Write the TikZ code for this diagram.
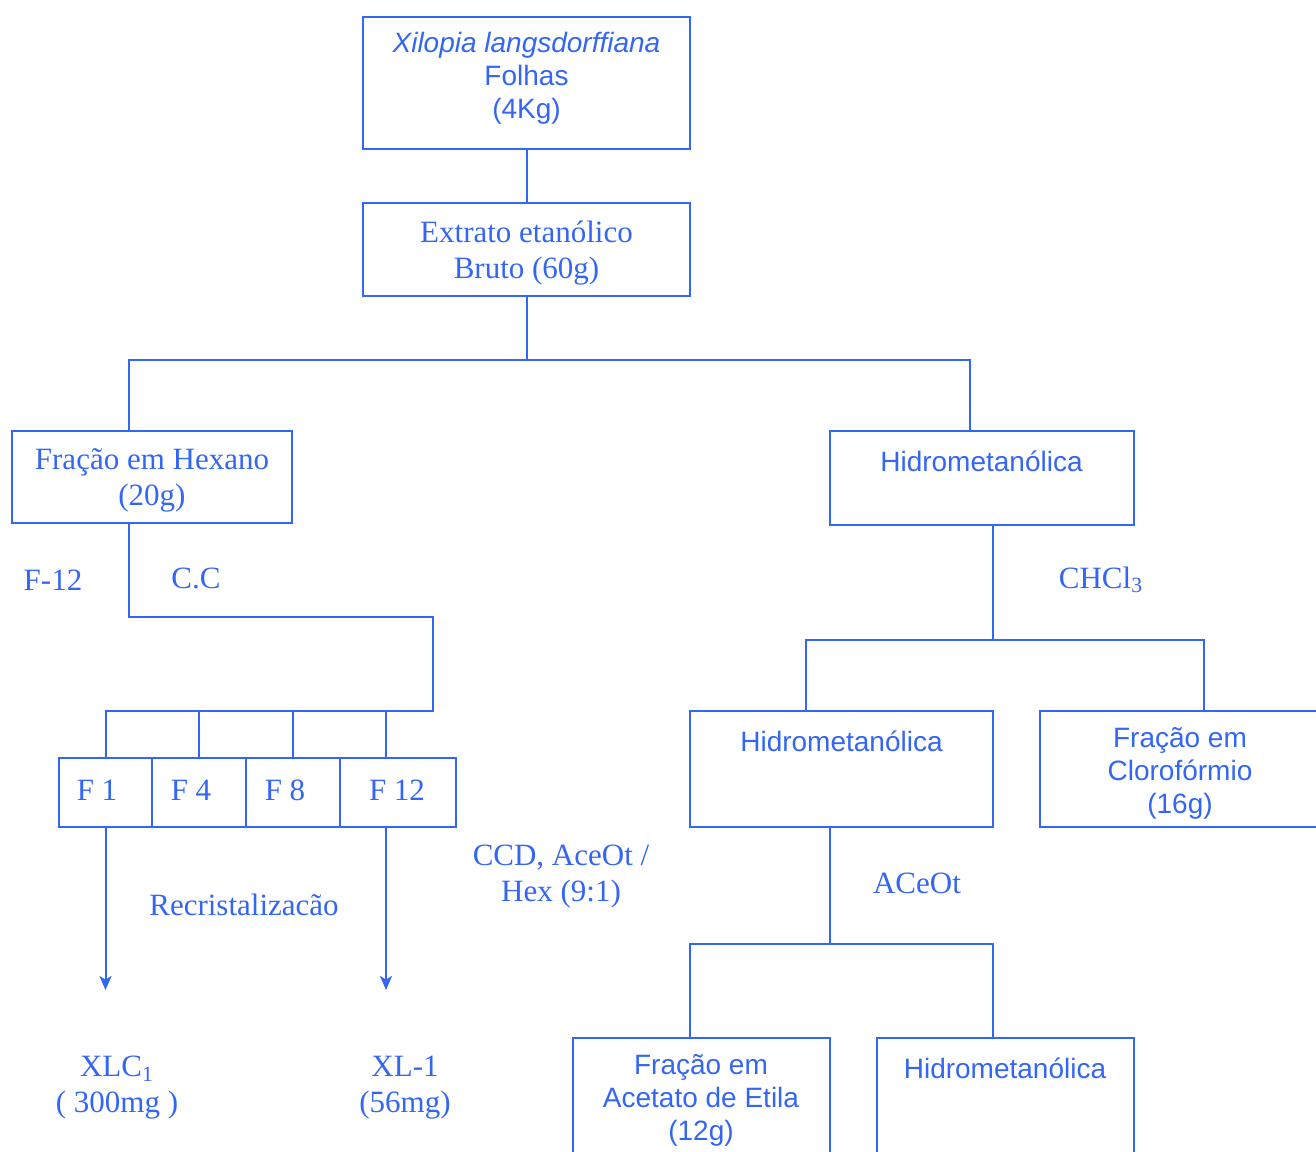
\documentclass[tikz,border=0pt]{standalone}
\usepackage{fontspec}
\setmainfont{Liberation Serif}
\setsansfont{Liberation Sans}
\usepackage{tikz}
\usetikzlibrary{arrows.meta, positioning, calc}
\definecolor{flowblue}{HTML}{3366F5}

\begin{document}
\begin{tikzpicture}[
    x=0.5pt, y=-0.5pt,
    box/.style={rectangle, draw=flowblue, line width=1pt, inner sep=0pt},
    serif/.style={text=flowblue, font=\fontsize{15.5}{18}\selectfont\rmfamily,
                  align=center, inner sep=0pt, yshift=-1.5pt},
    sans/.style={text=flowblue, font=\fontsize{14}{16.5}\selectfont\sffamily,
                 align=center, inner sep=0pt, yshift=-1pt},
    link/.style={draw=flowblue, line width=1pt},
    arrow/.style={link, -{Stealth[length=7pt, width=6pt, inset=1.8pt]}}
]
    \clip (0,0) rectangle (1316,1151);

    % boxes
    \node[box, minimum width=163.5pt, minimum height=66pt] (leaves) at (526.5,83) {};
    \node[box, minimum width=163.5pt, minimum height=46.5pt] (extract) at (526.5,249.5) {};
    \node[box, minimum width=140pt, minimum height=46pt] (hexane) at (152,477) {};
    \node[box, minimum width=152pt, minimum height=47pt] (hydroA) at (982,478) {};
    \node[box, minimum width=46.5pt, minimum height=34.5pt] (fr1) at (105.5,792.5) {};
    \node[box, minimum width=47pt, minimum height=34.5pt] (fr4) at (199,792.5) {};
    \node[box, minimum width=47pt, minimum height=34.5pt] (fr8) at (293,792.5) {};
    \node[box, minimum width=58pt, minimum height=34.5pt] (fr12) at (398,792.5) {};
    \node[box, minimum width=151.5pt, minimum height=58pt] (hydroB) at (841.5,769) {};
    \node[box, minimum width=145pt, minimum height=58pt] (chloro) at (1185,769) {};
    \node[box, minimum width=128.5pt, minimum height=66pt] (ethyl) at (701.5,1104) {};
    \node[box, minimum width=128.5pt, minimum height=66pt] (hydroC) at (1005.5,1104) {};

    % box texts
    \node[sans] (leavesT) at (526.5,76) {\textit{Xilopia langsdorffiana}\\Folhas\\(4Kg)};
    \node[serif] (extractT) at (526.5,250) {Extrato etanólico\\Bruto (60g)};
    \node[serif] (hexaneT) at (152,477.5) {Fração em Hexano\\(20g)};
    \node[sans] (hydroAT) at (981.5,459) {Hidrometanólica};
    \node[serif] (fr1T) at (97,787) {F 1};
    \node[serif] (fr4T) at (191,787) {F 4};
    \node[serif] (fr8T) at (285,787) {F 8};
    \node[serif] (fr12T) at (397,787) {F 12};
    \node[sans] (hydroBT) at (841.5,739) {Hidrometanólica};
    \node[sans] (chloroT) at (1180,771) {Fração em\\Clorofórmio\\(16g)};
    \node[sans] (ethylT) at (701,1098) {Fração em\\Acetato de Etila\\(12g)};
    \node[sans] (hydroCT) at (1005,1066) {Hidrometanólica};

    % free labels
    \node[serif] (f12L) at (53,577) {F-12};
    \node[serif] (ccL) at (196,575) {C.C};
    \node[serif] (recrL) at (244,902) {Recristalizacão};
    \node[serif] (ccdL) at (561,874) {CCD, AceOt /\\Hex (9:1)};
    \node[serif] (chclL) at (1101,577) {CHCl\textsubscript{3}};
    \node[serif] (aceotL) at (917,880) {ACeOt};
    \node[serif] (xlcL) at (117,1085) {XLC\textsubscript{1}\\( 300mg )};
    \node[serif] (xlL) at (405,1085) {XL-1\\(56mg)};

    % branch points
    \coordinate (splitA) at (526.5,360);
    \coordinate (hexaneIn) at (129,431);
    \coordinate (hydroAIn) at (970,431);
    \coordinate (hexaneOut) at (129,523);
    \coordinate (ccTurn) at (433,617);
    \coordinate (comb) at (433,711);
    \coordinate (fr12In) at (386,758);
    \coordinate (fr12Out) at (386,827);
    \coordinate (xlcTip) at (105.5,990);
    \coordinate (xlTip) at (386,990);
    \coordinate (hydroAOut) at (993,525);
    \coordinate (splitB) at (993,640);
    \coordinate (hydroBIn) at (806,711);
    \coordinate (chloroIn) at (1204,711);
    \coordinate (hydroBOut) at (830,827);
    \coordinate (splitC) at (830,944);
    \coordinate (ethylIn) at (690,1038);
    \coordinate (hydroCIn) at (993,1038);

    % connectors
    \draw[link] (leaves) -- (extract);
    \draw[link] (extract.south) -- (splitA);
    \draw[link] (hexaneIn) |- (splitA) -| (hydroAIn);
    \draw[link] (hexaneOut) |- (ccTurn) -- (comb) -| (fr1.north);
    \foreach \f in {fr4, fr8}
        \draw[link] (\f.north) -- (\f.north |- comb);
    \draw[link] (fr12In) -- (fr12In |- comb);
    \draw[arrow] (fr1.south) -- (xlcTip);
    \draw[arrow] (fr12Out) -- (xlTip);
    \draw[link] (hydroAOut) -- (splitB);
    \draw[link] (hydroBIn) |- (splitB) -| (chloroIn);
    \draw[link] (hydroBOut) -- (splitC);
    \draw[link] (ethylIn) |- (splitC) -| (hydroCIn);
\end{tikzpicture}
\end{document}
